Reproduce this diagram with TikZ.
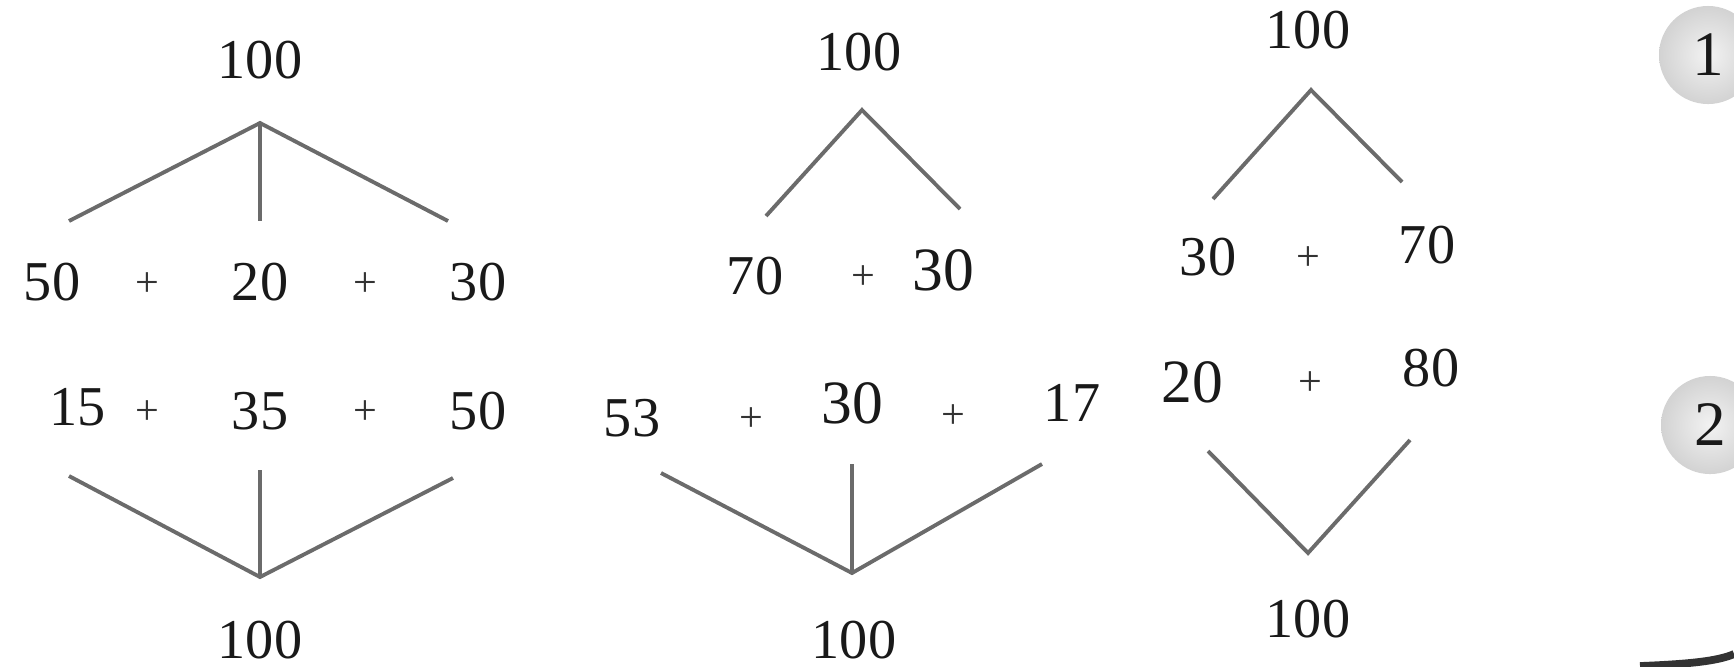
\documentclass[tikz,border=0pt]{standalone}
\usepackage{fontspec}
\setmainfont{Liberation Serif}
\usetikzlibrary{shapes.geometric, positioning, calc}

\begin{document}
\begin{tikzpicture}[
    x=0.01cm, y=-0.01cm,
    num/.style={inner sep=0pt, text=black!90,
                font=\fontsize{16}{18}\selectfont},
    numBig/.style={num, font=\fontsize{17.5}{19}\selectfont},
    plus/.style={inner sep=0pt, text=black!80,
                font=\fontsize{12}{13}\selectfont},
    link/.style={draw=black!58, line width=1.1pt},
    badge/.style={circle, minimum size=0.98cm, inner sep=0pt,
                inner color=gray!10, outer color=gray!35,
                text=black!90, font=\fontsize{18}{20}\selectfont}
  ]
  \useasboundingbox (0,0) rectangle (1734,666);

  %% ---- Panel 1: 100 = 50 + 20 + 30 ----
  \node[num] (pA-top) at (260,60) {100};
  \coordinate (pA-up)  at (260,123);
  \coordinate (pA-ul)  at (69,221);
  \coordinate (pA-um)  at (260,221);
  \coordinate (pA-ur)  at (448,221);
  \node[num]  (pA-a1) at (52,282)  {50};
  \node[plus] (pA-p1) at (147,285) {+};
  \node[num]  (pA-a2) at (260,282) {20};
  \node[plus] (pA-p2) at (365,285) {+};
  \node[num]  (pA-a3) at (478,282) {30};

  \node[num]  (pA-b1) at (78,407)  {15};
  \node[plus] (pA-p3) at (147,413) {+};
  \node[num]  (pA-b2) at (260,411) {35};
  \node[plus] (pA-p4) at (365,413) {+};
  \node[num]  (pA-b3) at (478,411) {50};
  \coordinate (pA-dl)  at (69,476);
  \coordinate (pA-dm)  at (260,470);
  \coordinate (pA-dr)  at (453,478);
  \coordinate (pA-dn)  at (260,577);
  \node[num] (pA-bot) at (260,640) {100};

  %% ---- Panel 2: 100 = 70 + 30 ----
  \node[num] (pB-top) at (859,52) {100};
  \coordinate (pB-up)  at (862,110);
  \coordinate (pB-ul)  at (766,216);
  \coordinate (pB-ur)  at (960,209);
  \node[num]    (pB-a1) at (755,276) {70};
  \node[plus]   (pB-p1) at (863,278) {+};
  \node[numBig] (pB-a2) at (943,270) {30};

  \node[num]    (pB-b1) at (632,418)  {53};
  \node[plus]   (pB-p2) at (751,420)  {+};
  \node[numBig] (pB-b2) at (852,403)  {30};
  \node[plus]   (pB-p3) at (953,417)  {+};
  \node[num]    (pB-b3) at (1072,403) {17};
  \coordinate (pB-dl)  at (661,473);
  \coordinate (pB-dm)  at (852,464);
  \coordinate (pB-dr)  at (1042,464);
  \coordinate (pB-dn)  at (852,573);
  \node[num] (pB-bot) at (854,640) {100};

  %% ---- Panel 3: 100 = 30 + 70 ----
  \node[num] (pC-top) at (1308,30) {100};
  \coordinate (pC-up)  at (1311,90);
  \coordinate (pC-ul)  at (1213,199);
  \coordinate (pC-ur)  at (1402,182);
  \node[num]  (pC-a1) at (1208,257) {30};
  \node[plus] (pC-p1) at (1308,259) {+};
  \node[num]  (pC-a2) at (1427,245) {70};

  \node[numBig] (pC-b1) at (1192,382) {20};
  \node[plus]   (pC-p2) at (1310,384) {+};
  \node[num]    (pC-b2) at (1431,368) {80};
  \coordinate (pC-dl)  at (1208,451);
  \coordinate (pC-dr)  at (1410,440);
  \coordinate (pC-dn)  at (1308,553);
  \node[num] (pC-bot) at (1308,619) {100};

  %% ---- Branch lines ----
  \draw[link] (pA-ul) -- (pA-up) -- (pA-ur);
  \draw[link] (pA-up) -- (pA-um);
  \draw[link] (pA-dl) -- (pA-dn) -- (pA-dr);
  \draw[link] (pA-dm) -- (pA-dn);

  \draw[link] (pB-ul) -- (pB-up) -- (pB-ur);
  \draw[link] (pB-dl) -- (pB-dn) -- (pB-dr);
  \draw[link] (pB-dm) -- (pB-dn);

  \draw[link] (pC-ul) -- (pC-up) -- (pC-ur);
  \draw[link] (pC-dl) -- (pC-dn) -- (pC-dr);

  %% ---- Step badges ----
  \node[badge] (step-one) at (1708,55)  {1};
  \node[badge] (step-two) at (1710,425) {2};

  %% ---- Page edge ----
  \coordinate (edge-a) at (1640,666);
  \coordinate (edge-b) at (1734,654);
  \draw[line width=2.2pt, black!80] (edge-a)
    .. controls (1690,664) and (1718,661) .. (edge-b);

\end{tikzpicture}
\end{document}
